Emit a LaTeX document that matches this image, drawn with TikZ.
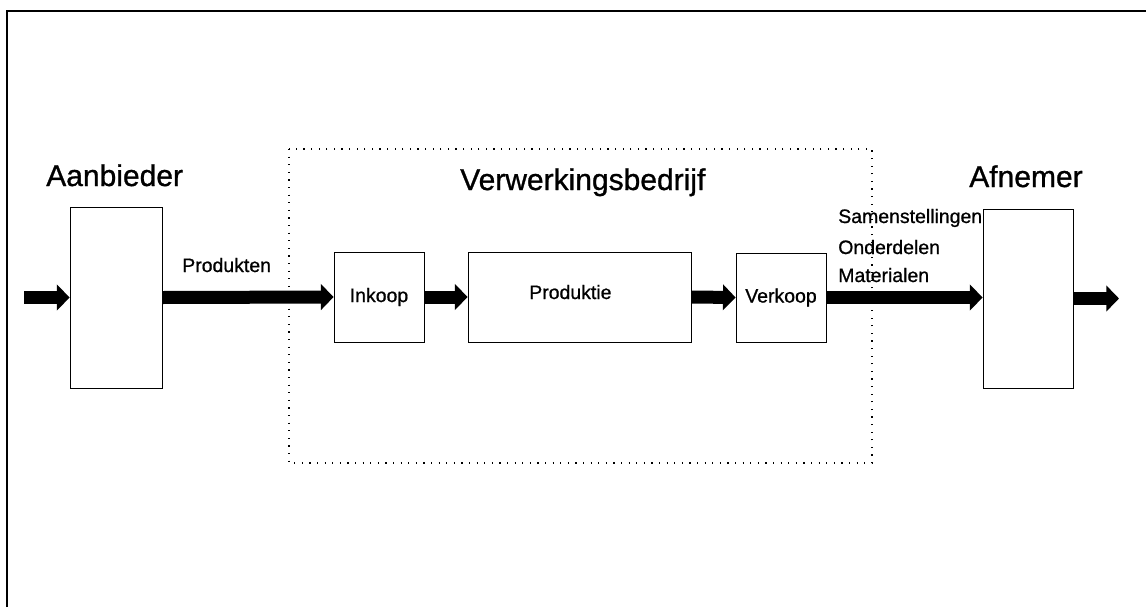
\documentclass[tikz,border=0pt]{standalone}
\usepackage{fontspec}
\setmainfont{Liberation Sans}
\newfontfamily\inkfont[FakeBold=0.9]{Liberation Sans}
\usetikzlibrary{arrows.meta}
\begin{document}
\begin{tikzpicture}[x=0.75pt,y=-0.75pt,
  box/.style={draw,line width=0.6pt,inner sep=0pt,font=\inkfont\fontsize{14.6}{17}\selectfont},
  fat/.style={line width=9.75pt,-{Triangle[length=9.5pt,width=19pt]}},
  big/.style={anchor=base west,inner sep=0pt,font=\inkfont\fontsize{22.5}{27}\selectfont},
  small/.style={anchor=base west,inner sep=0pt,font=\inkfont\fontsize{14.6}{17}\selectfont},
  dotbox/.style={line width=0.9pt,dash pattern=on 0.9pt off 4.8pt}]
\useasboundingbox (0,0) rectangle (1146,607);
% outer frame: left and top edges only
\draw[line width=2pt] (7,607) -- (7,11) -- (1146,11);
% boundary of the processing company
\draw[dotbox] (289,149) rectangle (872,463);
% blocks
\node[box,minimum width=69pt,minimum height=135.75pt] (sup) at (116,297.5) {};
\node[box,minimum width=67.5pt,minimum height=67.5pt] (ink) at (379,297) {Inkoop};
\node[box,minimum width=167.25pt,minimum height=67.5pt] (prd) at (579.5,297) {};
\node[box,minimum width=67.5pt,minimum height=66.75pt] (ver) at (781,297.5) {Verkoop};
\node[box,minimum width=67.5pt,minimum height=134.25pt] (afn) at (1028,298.5) {};
\coordinate (in) at (24,297.5);
\coordinate (out) at (1119,298.5);
% headings and labels
\node[big] (tsup) at (46,186) {Aanbieder};
\node[big] (tver) at (460,190) {Verwerkingsbedrijf};
\node[big] (tafn) at (969,187) {Afnemer};
\node[small] (tprod) at (182,272) {Produkten};
\node[small] (tprk) at (529,299) {Produktie};
\node[small] (tsam) at (838,223) {Samenstellingen};
\node[small] (tond) at (838,254) {Onderdelen};
\node[small] (tmat) at (838,282) {Materialen};
% flows
\draw[fat] (in) -- (sup.west);
\draw[fat] (sup.east) -- (ink.west);
\draw[fat] (ink.east) -- (prd.west);
\draw[fat] (prd.east) -- (ver.west);
\draw[fat] (ver.east) -- (ver.east -| afn.west);
\draw[fat] (afn.east) -- (out);
\end{tikzpicture}
\end{document}
